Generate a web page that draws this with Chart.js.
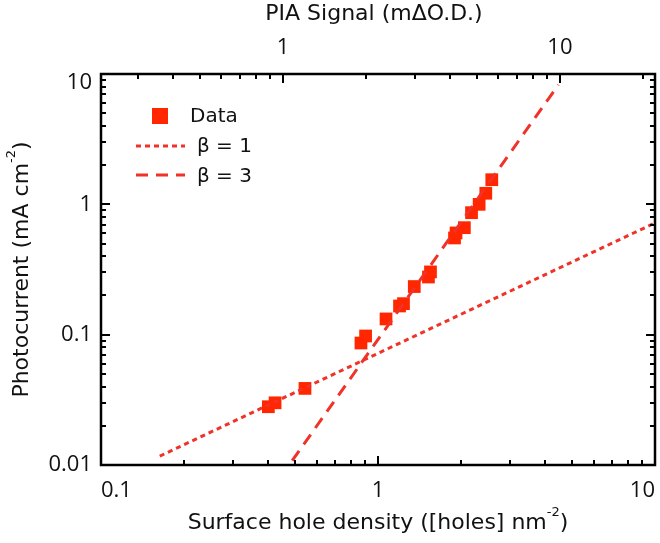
<!DOCTYPE html>
<html>
<head>
<meta charset="utf-8">
<script src="https://cdn.jsdelivr.net/npm/chart.js@4.4.1/dist/chart.umd.min.js"></script>
<style>
html,body{margin:0;padding:0;background:#fff;}
#wrap{width:660px;height:543px;position:relative;}
</style>
</head>
<body>
<div id="wrap"><canvas id="c" width="660" height="543"></canvas></div>
<script>
// ---- data ----
const densityX = [0.402, 0.425, 0.545, 0.868, 0.902, 1.069, 1.196, 1.236, 1.352, 1.521, 1.547, 1.889, 1.913, 2.05, 2.176, 2.318, 2.45, 2.575];
const photocurrent = [0.028, 0.030, 0.0387, 0.0863, 0.0977, 0.132, 0.166, 0.173, 0.234, 0.277, 0.303, 0.552, 0.603, 0.662, 0.863, 1.0, 1.216, 1.545];
const beta1X = [0.163, 10];
const beta1Y = [0.0117, 0.72];
const beta3X = [0.49, 4.48];
const beta3Y = [0.0108, 8.27];
const xTickLabels = [0.1, 1, 10];
const yTickLabels = [0.01, 0.1, 1, 10];
const topTickLabels = [1, 10];
const seriesNames = ['Data', 'β = 1', 'β = 3'];
const xTitle = ['Surface hole density ([holes] nm', '-2', ')'];
const yTitle = ['Photocurrent (mA cm', '-2', ')'];
const topTitle = 'PIA Signal (mΔO.D.)';

const RED = 'rgb(255,38,0)';
const LINE_RED = 'rgb(240,50,40)';
const FONT = '"DejaVu Sans", "Open Sans", sans-serif';
const TICK_FONT = '"Open Sans", "DejaVu Sans", sans-serif';
const TITLE_SIZE = 22;
const TICK_SIZE = 22;

function toPts(xs, ys){ return xs.map((x,i)=>({x:x, y:ys[i]})); }
function isLabel(list, v){ return list.some(t => Math.abs(v - t) / t < 1e-6); }
function noPad(s){ s.paddingLeft = 0; s.paddingRight = 0; s.paddingTop = 0; s.paddingBottom = 0; }

const tickPlugin = {
  id: 'frameTicks',
  afterDraw(chart){
    const ctx = chart.ctx, a = chart.chartArea;
    ctx.save();
    ctx.strokeStyle = '#000';
    ctx.lineCap = 'butt';
    const MAJ = 9, MIN = 5;
    function logTicks(scale){
      const out = [];
      const lo = Math.floor(Math.log10(scale.min)), hi = Math.ceil(Math.log10(scale.max));
      for (let d = lo; d <= hi; d++){
        for (let m = 1; m <= 9; m++){
          const v = m * Math.pow(10, d);
          if (v >= scale.min * 0.9999 && v <= scale.max * 1.0001) out.push({v: v, major: m === 1});
        }
      }
      return out;
    }
    ctx.lineWidth = 2;
    const xs = chart.scales.x, ys = chart.scales.y, x2 = chart.scales.x2;
    logTicks(xs).forEach(t => {
      const p = Math.round(xs.getPixelForValue(t.v));
      const L = t.major ? MAJ : MIN;
      ctx.beginPath(); ctx.moveTo(p, a.bottom); ctx.lineTo(p, a.bottom - L); ctx.stroke();
    });
    logTicks(x2).forEach(t => {
      const p = Math.round(x2.getPixelForValue(t.v));
      const L = t.major ? MAJ : MIN;
      ctx.beginPath(); ctx.moveTo(p, a.top); ctx.lineTo(p, a.top + L); ctx.stroke();
    });
    logTicks(ys).forEach(t => {
      const p = Math.round(ys.getPixelForValue(t.v));
      const L = t.major ? MAJ : MIN;
      ctx.beginPath(); ctx.moveTo(a.left, p); ctx.lineTo(a.left + L, p); ctx.stroke();
      ctx.beginPath(); ctx.moveTo(a.right, p); ctx.lineTo(a.right - L, p); ctx.stroke();
    });
    ctx.lineWidth = 2.5;
    ctx.strokeRect(a.left, a.top, a.right - a.left, a.bottom - a.top);

    ctx.fillStyle = '#111';
    function supTitle(parts, cx, cy, rot){
      ctx.save();
      ctx.translate(cx, cy);
      if (rot) ctx.rotate(rot);
      const big = TITLE_SIZE + 'px ' + FONT, small = '13px ' + FONT;
      ctx.font = big; const w1 = ctx.measureText(parts[0]).width; const w3 = ctx.measureText(parts[2]).width;
      ctx.font = small; const w2 = ctx.measureText(parts[1]).width;
      const tot = w1 + w2 + w3;
      let x = -tot / 2;
      ctx.textBaseline = 'middle'; ctx.textAlign = 'left';
      ctx.font = big; ctx.fillText(parts[0], x, 0); x += w1;
      ctx.font = small; ctx.fillText(parts[1], x, -10); x += w2;
      ctx.font = big; ctx.fillText(parts[2], x, 0);
      ctx.restore();
    }
    supTitle(xTitle, (a.left + a.right) / 2, 523, 0);
    supTitle(yTitle, 22, (a.top + a.bottom) / 2, -Math.PI / 2);
    ctx.font = TITLE_SIZE + 'px ' + FONT; ctx.textAlign = 'center'; ctx.textBaseline = 'middle';
    ctx.fillText(topTitle, (a.left + a.right) / 2 - 4, 14);

    ctx.font = '20px ' + FONT; ctx.textAlign = 'left'; ctx.textBaseline = 'middle';
    ctx.fillStyle = RED;
    ctx.fillRect(152, 108, 16, 16);
    ctx.fillStyle = '#111';
    ctx.fillText(seriesNames[0], 190, 117);
    ctx.strokeStyle = LINE_RED; ctx.lineWidth = 3;
    ctx.setLineDash([5, 4]);
    ctx.beginPath(); ctx.moveTo(136, 146); ctx.lineTo(185, 146); ctx.stroke();
    ctx.setLineDash([12, 8]);
    ctx.beginPath(); ctx.moveTo(136, 175); ctx.lineTo(185, 175); ctx.stroke();
    ctx.setLineDash([]);
    ctx.fillText(seriesNames[1], 197, 147);
    ctx.fillText(seriesNames[2], 197, 177);
    ctx.restore();
  }
};

new Chart(document.getElementById('c'), {
  type: 'scatter',
  data: {
    datasets: [
      { label: seriesNames[1], data: toPts(beta1X, beta1Y), showLine: true, borderColor: LINE_RED, borderWidth: 3, borderDash: [5, 4], pointRadius: 0, fill: false, xAxisID: 'x', yAxisID: 'y' },
      { label: seriesNames[2], data: toPts(beta3X, beta3Y), showLine: true, borderColor: LINE_RED, borderWidth: 3, borderDash: [12, 8], pointRadius: 0, fill: false, xAxisID: 'x', yAxisID: 'y' },
      { label: seriesNames[0], data: toPts(densityX, photocurrent), showLine: false, pointStyle: 'rect', pointRadius: 9, backgroundColor: RED, borderColor: RED, borderWidth: 0, xAxisID: 'x', yAxisID: 'y' }
    ]
  },
  options: {
    responsive: false,
    animation: false,
    devicePixelRatio: 1,
    layout: { autoPadding: false, padding: { left: 0, right: 5, top: 0, bottom: 0 } },
    plugins: { legend: { display: false }, tooltip: { enabled: false } },
    scales: {
      x: {
        type: 'logarithmic', position: 'bottom', min: 0.1, max: 10,
        grid: { display: false, drawTicks: false }, border: { display: false },
        ticks: { autoSkip: false, maxRotation: 0, align: 'inner', padding: 13, color: '#111', font: { size: TICK_SIZE, family: TICK_FONT },
          callback: (v) => isLabel(xTickLabels, v) ? String(v) : '' },
        afterFit: (s) => { s.height = 78; noPad(s); }
      },
      x2: {
        type: 'logarithmic', position: 'top', axis: 'x', min: 0.2204, max: 22.04,
        grid: { display: false, drawTicks: false }, border: { display: false },
        ticks: { autoSkip: false, maxRotation: 0, padding: 13, color: '#111', font: { size: TICK_SIZE, family: TICK_FONT },
          callback: (v) => isLabel(topTickLabels, v) ? String(v) : '' },
        afterFit: (s) => { s.height = 74; noPad(s); }
      },
      y: {
        type: 'logarithmic', position: 'left', min: 0.01, max: 10,
        grid: { display: false, drawTicks: false }, border: { display: false },
        ticks: { autoSkip: false, padding: 9, color: '#111',
          font: (c) => ({ size: TICK_SIZE, family: TICK_FONT, lineHeight: (c.tick && Math.abs(c.tick.value - 10) < 1e-6) ? 0.8 : 1.2 }),
          callback: (v) => {
            if (!isLabel(yTickLabels, v)) return '';
            // top label sits just inside the frame, as in the reference
            return Math.abs(v - 10) < 1e-6 ? ['', String(v)] : String(v);
          } },
        afterFit: (s) => { s.width = 101; noPad(s); }
      }
    }
  },
  plugins: [tickPlugin]
});
</script>
</body>
</html>
